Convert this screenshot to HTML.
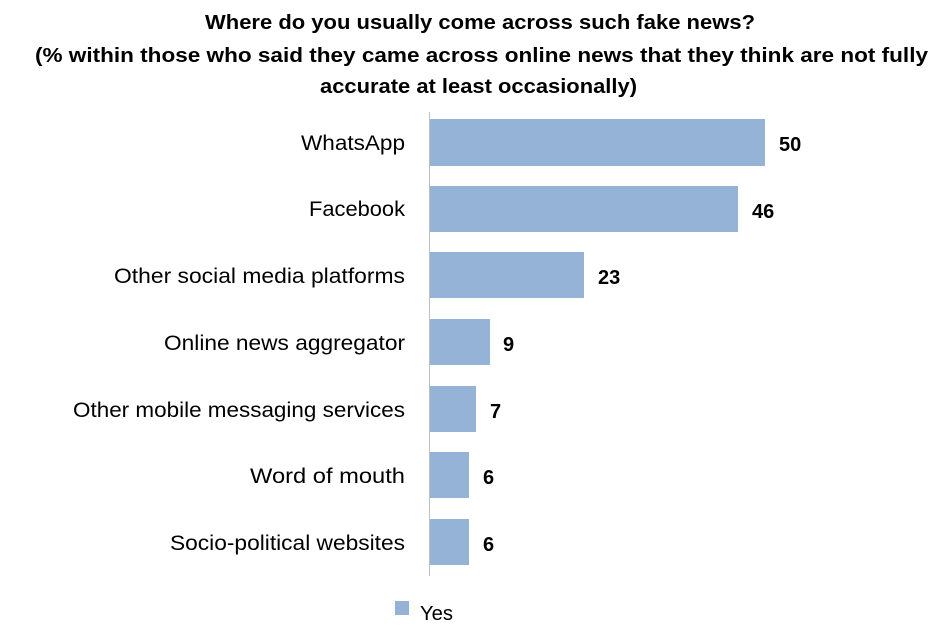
<!DOCTYPE html>
<html><head><meta charset="utf-8"><style>
body{margin:0;background:#fff;}
svg{display:block;font-family:"Liberation Sans",sans-serif;}
</style></head><body>
<svg width="946" height="637" viewBox="0 0 946 637">
<g font-weight="bold" font-size="20.5" fill="#000" lengthAdjust="spacingAndGlyphs">
<text x="205" y="29" textLength="550" lengthAdjust="spacingAndGlyphs">Where do you usually come across such fake news?</text>
<text x="35" y="62" textLength="893" lengthAdjust="spacingAndGlyphs">(% within those who said they came across online news that they think are not fully</text>
<text x="320" y="93" textLength="317" lengthAdjust="spacingAndGlyphs">accurate at least occasionally)</text>
</g>
<line x1="429.5" y1="112" x2="429.5" y2="576" stroke="#bfbfbf" stroke-width="1"/>
<g fill="#95b3d7">
<rect x="430" y="119" width="335" height="47"/>
<rect x="430" y="186" width="308" height="46"/>
<rect x="430" y="252" width="154" height="46"/>
<rect x="430" y="319" width="60" height="46"/>
<rect x="430" y="386" width="46" height="46"/>
<rect x="430" y="452" width="39" height="46"/>
<rect x="430" y="519" width="39" height="46"/>
</g>
<g font-size="21.5" fill="#000">
<text x="301" y="150" textLength="104" lengthAdjust="spacingAndGlyphs">WhatsApp</text>
<text x="309" y="216" textLength="96" lengthAdjust="spacingAndGlyphs">Facebook</text>
<text x="114" y="283" textLength="291" lengthAdjust="spacingAndGlyphs">Other social media platforms</text>
<text x="164" y="350" textLength="241" lengthAdjust="spacingAndGlyphs">Online news aggregator</text>
<text x="73" y="417" textLength="332" lengthAdjust="spacingAndGlyphs">Other mobile messaging services</text>
<text x="250" y="483" textLength="155" lengthAdjust="spacingAndGlyphs">Word of mouth</text>
<text x="170" y="550" textLength="235" lengthAdjust="spacingAndGlyphs">Socio-political websites</text>
</g>
<g font-size="20" font-weight="bold" fill="#000">
<text x="779" y="151">50</text>
<text x="752" y="218">46</text>
<text x="598" y="284">23</text>
<text x="503" y="351">9</text>
<text x="490" y="418">7</text>
<text x="483" y="484">6</text>
<text x="483" y="551">6</text>
</g>
<rect x="395" y="601" width="14" height="14" fill="#95b3d7"/>
<text x="420" y="620" font-size="20.5" fill="#000" textLength="33" lengthAdjust="spacingAndGlyphs">Yes</text>
</svg>
</body></html>
